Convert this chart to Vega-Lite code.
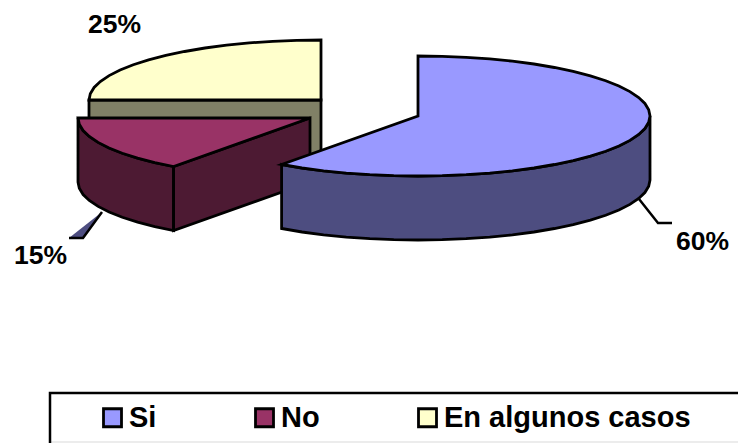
{
  "$schema": "https://vega.github.io/schema/vega-lite/v6.json",
  "width": 738,
  "height": 443,
  "padding": 0,
  "autosize": {"type": "none"},
  "background": "white",
  "projection": {"type": "identity", "scale": 1, "translate": [0, 0]},
  "datasets": {
    "faces": [
      {"type": "Feature", "properties": {"face": "En algunos casos lateral"}, "geometry": {"type": "Polygon", "coordinates": [[[89,100],[321,100],[321,164],[89,164],[89,100]]]}},
      {"type": "Feature", "properties": {"face": "En algunos casos"}, "geometry": {"type": "Polygon", "coordinates": [[[89,100],[90.3,93.7],[94.1,87.5],[100.3,81.5],[109.1,75.6],[120.1,70],[133.3,64.7],[148.6,59.9],[165.8,55.4],[184.6,51.5],[205,48],[226.6,45.2],[249.3,42.9],[272.8,41.3],[296.8,40.3],[321,40],[321,100],[89,100]]]}},
      {"type": "Feature", "properties": {"face": "No lateral"}, "geometry": {"type": "Polygon", "coordinates": [[[173.6,166.5],[154.8,162.6],[137.6,158.1],[122.3,153.3],[109.1,148],[98.1,142.4],[89.3,136.5],[83.1,130.5],[79.3,124.3],[78,118],[78,182],[79.3,188.3],[83.1,194.5],[89.3,200.5],[98.1,206.4],[109.1,212],[122.3,217.3],[137.6,222.1],[154.8,226.6],[173.6,230.5],[173.6,166.5]]]}},
      {"type": "Feature", "properties": {"face": "No lateral"}, "geometry": {"type": "Polygon", "coordinates": [[[310,118],[173.6,166.5],[173.6,230.5],[310,182],[310,118]]]}},
      {"type": "Feature", "properties": {"face": "No"}, "geometry": {"type": "Polygon", "coordinates": [[[310,118],[173.6,166.5],[154.8,162.6],[137.6,158.1],[122.3,153.3],[109.1,148],[98.1,142.4],[89.3,136.5],[83.1,130.5],[79.3,124.3],[78,118],[310,118]]]}},
      {"type": "Feature", "properties": {"face": "Si lateral"}, "geometry": {"type": "Polygon", "coordinates": [[[650,116],[648.7,122.3],[644.9,128.5],[638.7,134.5],[629.9,140.4],[618.9,146],[605.7,151.3],[590.4,156.1],[573.2,160.6],[554.4,164.5],[534,168],[512.4,170.8],[489.7,173.1],[466.2,174.7],[442.2,175.7],[418,176],[393.8,175.7],[369.8,174.7],[346.3,173.1],[323.6,170.8],[302,168],[281.6,164.5],[281.6,228.5],[302,232],[323.6,234.8],[346.3,237.1],[369.8,238.7],[393.8,239.7],[418,240],[442.2,239.7],[466.2,238.7],[489.7,237.1],[512.4,234.8],[534,232],[554.4,228.5],[573.2,224.6],[590.4,220.1],[605.7,215.3],[618.9,210],[629.9,204.4],[638.7,198.5],[644.9,192.5],[648.7,186.3],[650,180],[650,116]]]}},
      {"type": "Feature", "properties": {"face": "Si"}, "geometry": {"type": "Polygon", "coordinates": [[[418,116],[418,56],[442.2,56.3],[466.2,57.3],[489.7,58.9],[512.4,61.2],[534,64],[554.4,67.5],[573.2,71.4],[590.4,75.9],[605.7,80.7],[618.9,86],[629.9,91.6],[638.7,97.5],[644.9,103.5],[648.7,109.7],[650,116],[648.7,122.3],[644.9,128.5],[638.7,134.5],[629.9,140.4],[618.9,146],[605.7,151.3],[590.4,156.1],[573.2,160.6],[554.4,164.5],[534,168],[512.4,170.8],[489.7,173.1],[466.2,174.7],[442.2,175.7],[418,176],[393.8,175.7],[369.8,174.7],[346.3,173.1],[323.6,170.8],[302,168],[281.6,164.5],[418,116]]]}}
    ],
    "wedge": [
      {"type": "Feature", "properties": {"face": "Si lateral"}, "geometry": {"type": "Polygon", "coordinates": [[[102,212],[69,238],[83,238],[102,212]]]}}
    ],
    "strokes": [
      {"type": "Feature", "properties": {"role": "guia 60%"}, "geometry": {"type": "LineString", "coordinates": [[639,199],[658,223],[672,223]]}},
      {"type": "Feature", "properties": {"role": "guia 15%"}, "geometry": {"type": "LineString", "coordinates": [[102,212],[83,238],[69,238]]}},
      {"type": "Feature", "properties": {"role": "marco"}, "geometry": {"type": "LineString", "coordinates": [[50,445],[50,393],[740,393]]}}
    ],
    "frameBase": [
      {"type": "Feature", "properties": {"role": "base del marco"}, "geometry": {"type": "LineString", "coordinates": [[51,442],[738,442]]}}
    ],
    "shares": [
      {"slice": "Si", "share": 0.6, "lon": 676, "lat": 250},
      {"slice": "No", "share": 0.15, "lon": 14, "lat": 264},
      {"slice": "En algunos casos", "share": 0.25, "lon": 88, "lat": 33}
    ]
  },
  "layer": [
    {
      "data": {"name": "wedge"},
      "mark": {"type": "geoshape", "fill": "#4d4d80", "stroke": null}
    },
    {
      "data": {"name": "frameBase"},
      "mark": {"type": "geoshape", "filled": false, "stroke": "#e6e6e6", "strokeWidth": 1.5}
    },
    {
      "data": {"name": "strokes"},
      "mark": {"type": "geoshape", "filled": false, "stroke": "black", "strokeWidth": 2.5}
    },
    {
      "data": {"name": "faces"},
      "mark": {"type": "geoshape", "stroke": "black", "strokeWidth": 2.8},
      "encoding": {
        "fill": {
          "field": "properties.face",
          "type": "nominal",
          "scale": {
            "domain": ["Si", "No", "En algunos casos", "Si lateral", "No lateral", "En algunos casos lateral"],
            "range": ["#9999ff", "#993366", "#ffffcc", "#4d4d80", "#4d1a33", "#808066"]
          },
          "legend": {
            "values": ["Si", "No", "En algunos casos"],
            "title": null,
            "orient": "none",
            "legendX": 98,
            "legendY": 403,
            "direction": "horizontal",
            "columns": 3,
            "columnPadding": 92,
            "padding": 0,
            "symbolType": "square",
            "symbolSize": 324,
            "symbolStrokeColor": "black",
            "symbolStrokeWidth": 2.8,
            "symbolOpacity": 1,
            "labelOffset": 2,
            "labelFont": "Liberation Sans",
            "labelFontWeight": "bold",
            "labelFontSize": 29,
            "labelColor": "black",
            "labelLimit": 400
          }
        }
      }
    },
    {
      "data": {"name": "shares"},
      "mark": {"type": "text", "align": "left", "baseline": "alphabetic", "font": "Liberation Sans", "fontWeight": "bold", "fontSize": 26.5, "color": "black"},
      "encoding": {
        "longitude": {"field": "lon", "type": "quantitative"},
        "latitude": {"field": "lat", "type": "quantitative"},
        "text": {"field": "share", "type": "quantitative", "format": ".0%"}
      }
    }
  ]
}
